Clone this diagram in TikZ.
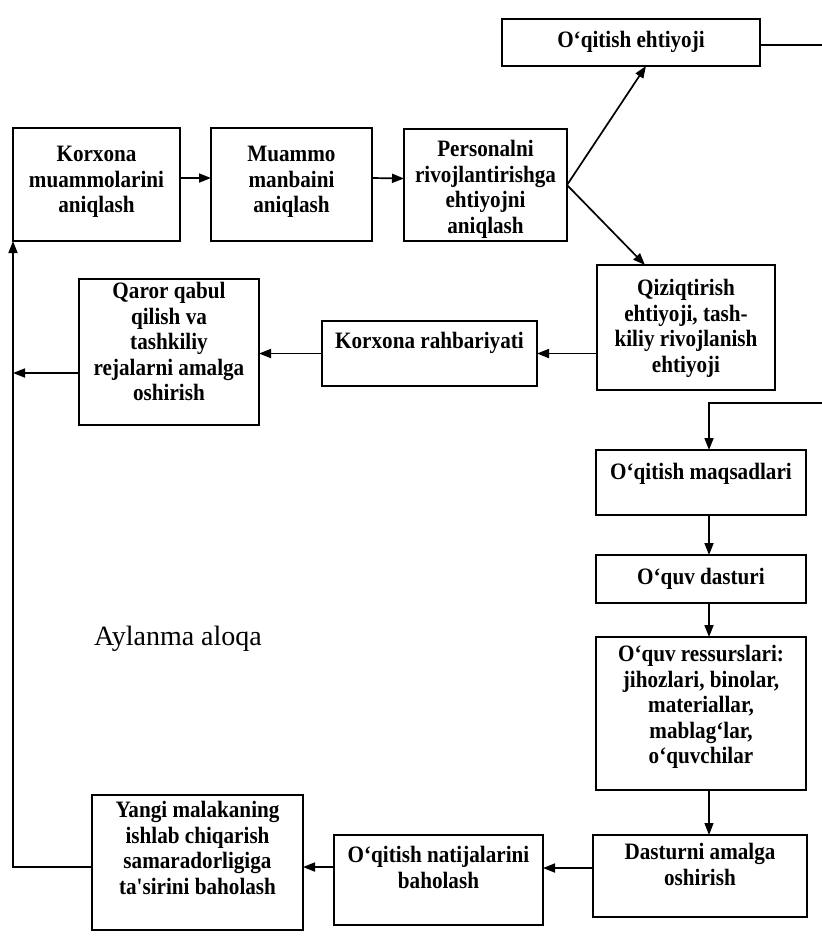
\documentclass[tikz,border=0pt]{standalone}
\usepackage{fontspec}
\setmainfont{Liberation Serif}[Ligatures=TeXOff]
\newfontfamily\cellfont{Liberation Serif}[Ligatures=TeXOff,
  BoldFeatures={FakeStretch=0.9}]
\usetikzlibrary{arrows.meta}
% a fixed-size cell: width, height, space above the first line, text
\newcommand{\cellbox}[4]{\parbox[c][#2pt][t]{#1pt}{\centering\vspace*{#3pt}\strut#4\strut\par}}
\tikzset{
  box/.style={draw, line width=1.8pt, inner sep=0pt, outer sep=0pt,
              font=\cellfont\bfseries\fontsize{23.5pt}{25.5pt}\selectfont},
  link/.style={line width=1.7pt, -{Triangle[length=12pt,width=9pt]}},
  thinlink/.style={line width=1.1pt, -{Triangle[length=12pt,width=9pt]}},
}
\begin{document}
\begin{tikzpicture}[x=1pt,y=-1pt]
\useasboundingbox (0,0) rectangle (822,938);
\clip (0,0) rectangle (822,938);

% top branch
\node[box] (E) at (631,42.5) {\cellbox{258}{47}{10.75}{O‘qitish ehtiyoji}};

% first row
\node[box] (A) at (96.5,184.5) {\cellbox{167}{113}{15.65}{Korxona\\muammolarini\\aniqlash}};
\node[box] (B) at (291.5,184.5) {\cellbox{161}{113}{15.65}{Muammo\\manbaini\\aniqlash}};
\node[box] (C) at (485.5,185) {\cellbox{163}{112}{9.65}{Personalni\\rivojlantirishga\\ehtiyojni\\aniqlash}};

% second row
\node[box] (Q) at (686,327.5) {\cellbox{178}{125}{12.65}{Qiziqtirish\\ehtiyoji, tash-\\kiliy rivojlanish\\ehtiyoji}};
\node[box] (R) at (429.5,353.5) {\cellbox{215}{65}{9.65}{Korxona rahbariyati}};
\node[box] (QR) at (169,352) {\cellbox{180}{146}{1.65}{Qaror qabul\\qilish va\\tashkiliy\\rejalarni amalga\\oshirish}};

% right column
\node[box] (M) at (701,482.5) {\cellbox{210}{65}{11.65}{O‘qitish maqsadlari}};
\node[box] (Ds) at (701,579) {\cellbox{210}{48}{11.25}{O‘quv dasturi}};
\node[box] (Rs) at (701,713.5) {\cellbox{210}{153}{6.65}{O‘quv ressurslari:\\jihozlari, binolar,\\materiallar,\\mablag‘lar,\\o‘quvchilar}};
\node[box] (Dt) at (700,876) {\cellbox{214}{82}{6.65}{Dasturni amalga\\oshirish}};

% bottom row
\node[box] (Nt) at (438.5,880) {\cellbox{209}{90}{9.65}{O‘qitish natijalarini\\baholash}};
\node[box] (Y) at (197.5,862.5) {\cellbox{211}{135}{4.65}{Yangi malakaning\\ishlab chiqarish\\samaradorligiga\\ta'sirini baholash}};

\node[font=\fontsize{28pt}{32pt}\selectfont, anchor=base] (fbl) at (178,645) {Aylanma aloqa};

\coordinate (rc) at (830,403);
\coordinate (colx) at (709,0);

% connectors
\draw[link] ([yshift=6.5pt]A.east) -- ([yshift=6.5pt]B.west);
\draw[link] ([yshift=6.5pt]B.east) -- ([yshift=6.5pt]C.west);
\draw[link] (C.east) -- ([xshift=15pt]E.south);
\draw[link] (C.east) -- ([xshift=-41pt]Q.north);
\draw[link] (R.east -| Q.west) -- (R.east);
\draw[link] (R.west) -- (R.west -| QR.east);
\draw[link] ([yshift=-21pt]QR.west) -- ([yshift=-21pt]QR.west -| A.south west);
\draw[link] ([yshift=-2.5pt]E.east) -| (rc) -| (M.north -| colx);
\draw[link] (M.south -| colx) -- (Ds.north -| colx);
\draw[link] (Ds.south -| colx) -- (Rs.north -| colx);
\draw[thinlink] (Rs.south -| colx) -- (Dt.north -| colx);
\draw[link] ([yshift=8pt]Dt.west) -- ([yshift=8pt]Dt.west -| Nt.east);
\draw[link] ([yshift=13pt]Nt.west) -- ([yshift=13pt]Nt.west -| Y.east);
\draw[link] ([yshift=-4.5pt]Y.west) -| (A.south west);
\end{tikzpicture}
\end{document}
